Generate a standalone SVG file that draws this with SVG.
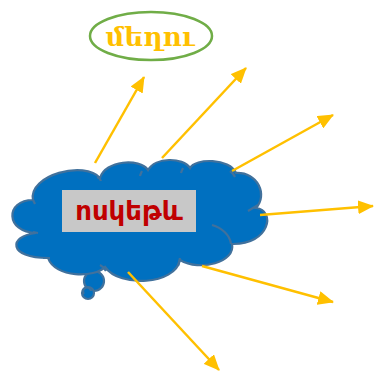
<svg xmlns="http://www.w3.org/2000/svg" width="374" height="373" viewBox="0 0 374 373">
<defs>
<marker id="ah" markerUnits="userSpaceOnUse" markerWidth="16" markerHeight="14" viewBox="0 0 16 14" refX="15" refY="7" orient="auto">
<path d="M0,0 L16,7 L0,14 Z" fill="#FFC000"/>
</marker>
<style>
.conn{stroke:#FFC000;stroke-width:2.5;fill:none;marker-end:url(#ah)}
.cloud{fill:#0070C0;stroke:#41719C;stroke-width:2.2}
.inner{fill:none;stroke:#41719C;stroke-width:2.2}
</style>
</defs>
<rect width="374" height="373" fill="#fff"/>
<g id="node-cloud">
<circle class="cloud" cx="94" cy="281" r="10"/>
<circle class="cloud" cx="88" cy="293" r="6"/>
<path class="inner" d="M84,294 a4,4 0 1 1 7,-3"/>
<path class="cloud" d="M33,200 C28,175 85,160 100,178 C105,160 140,158 148,170 C155,157 183,157 190,168 C195,158 230,158 236,173 C258,172 268,195 256,208 C276,210 270,245 232,244 C236,262 200,272 180,260 C175,285 120,288 105,267 C95,278 55,278 48,258 C8,258 8,236 36,233 C5,232 5,200 33,200 Z"/>
<path class="inner" d="M33,200 Q34,202 35,204 M97,177 Q100,178 101,181 M142,171 Q141,173 140,176 M183,168 Q182,170 181,173 M230,171 Q233,173 235,177 M248,211 L258,205 M212,225 C222,228 230,235 231,244 M180,258 Q179,262 178,266 M100,265 Q104,267 106,271 M43,258 L50,258 M33,232 L38,233"/>
<rect x="62" y="190" width="134" height="42" fill="#C8C8C8"/>
<text x="129" y="220" text-anchor="middle" font-family="'DejaVu Sans', 'Noto Sans', sans-serif" font-weight="bold" font-size="26" fill="#C00000">ոսկեթև</text>
</g>
<g id="node-bee">
<ellipse cx="151" cy="36" rx="61" ry="24" fill="#fff" stroke="#70AD47" stroke-width="2.5"/>
<text x="150" y="46" text-anchor="middle" font-family="'DejaVu Serif', 'Noto Serif', serif" font-weight="bold" font-size="26" fill="#FFC000">մեղու</text>
</g>
<g id="connectors">
<line class="conn" x1="95" y1="163" x2="144" y2="77"/>
<line class="conn" x1="162" y1="158" x2="246" y2="68"/>
<line class="conn" x1="232" y1="171" x2="333" y2="115"/>
<line class="conn" x1="260" y1="215" x2="373" y2="206"/>
<line class="conn" x1="202" y1="266" x2="333" y2="302"/>
<line class="conn" x1="128" y1="272" x2="219" y2="370"/>
</g>
</svg>
